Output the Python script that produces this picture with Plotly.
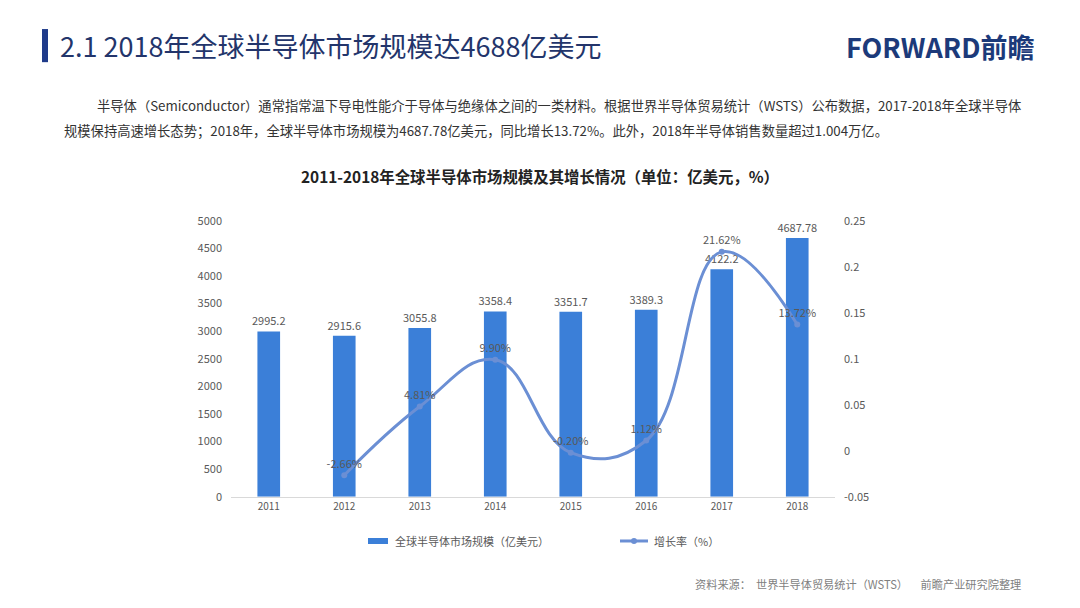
import plotly.graph_objects as go

years = ["2011", "2012", "2013", "2014", "2015", "2016", "2017", "2018"]
market_size = [2995.2, 2915.6, 3055.8, 3358.4, 3351.7, 3389.3, 4122.2, 4687.78]
market_labels = ["2995.2", "2915.6", "3055.8", "3358.4", "3351.7", "3389.3", "4122.2", "4687.78"]
growth_years = ["2012", "2013", "2014", "2015", "2016", "2017", "2018"]
growth_rate = [-0.0266, 0.0481, 0.0990, -0.0020, 0.0112, 0.2162, 0.1372]
growth_labels = ["-2.66%", "4.81%", "9.90%", "-0.20%", "1.12%", "21.62%", "13.72%"]
left_ticks = [0, 500, 1000, 1500, 2000, 2500, 3000, 3500, 4000, 4500, 5000]
right_ticks = [-0.05, 0, 0.05, 0.1, 0.15, 0.2, 0.25]
right_ticktext = ["-0.05", "0", "0.05", "0.1", "0.15", "0.2", "0.25"]

W, H = 1080, 608
FONT = "Noto Sans CJK SC"
BAR_COLOR = "#3b7fd8"
LINE_COLOR = "#6b8fd4"
GRAY = "#595959"


# page offset compensation (picture coords -> paper fractions)
def px(x):
    return (x - 8) / W


def py(y):
    return 1 - ((y - 18) / 0.97) / H


fig = go.Figure()

fig.add_trace(go.Bar(
    x=years,
    y=market_size,
    name="全球半导体市场规模（亿美元）",
    marker=dict(color=BAR_COLOR, line=dict(width=0)),
    text=market_labels,
    textposition="outside",
    constraintext="none",
    textfont=dict(size=11, color=GRAY, family=FONT),
    cliponaxis=False,
    showlegend=False,
))

fig.add_trace(go.Scatter(
    x=growth_years,
    y=growth_rate,
    name="增长率（%）",
    yaxis="y2",
    mode="lines+markers+text",
    line=dict(color=LINE_COLOR, width=3, shape="spline", smoothing=1.2),
    marker=dict(size=6, color=LINE_COLOR),
    text=growth_labels,
    textposition="top center",
    textfont=dict(size=11, color=GRAY, family=FONT),
    cliponaxis=False,
    showlegend=False,
))

fig.update_layout(
    width=W,
    height=H,
    margin=dict(l=0, r=0, t=0, b=0),
    paper_bgcolor="white",
    plot_bgcolor="white",
    font=dict(family=FONT, color=GRAY),
    bargap=0.7,
    xaxis=dict(
        domain=[px(231), px(835)],
        showgrid=False,
        showline=True,
        linecolor="#d9d9d9",
        linewidth=1,
        ticks="",
        tickfont=dict(size=10, color=GRAY),
    ),
    yaxis=dict(
        domain=[py(496), py(221)],
        range=[0, 5000],
        tickvals=left_ticks,
        showgrid=False,
        zeroline=False,
        showline=False,
        tickfont=dict(size=11, color=GRAY),
        ticklabelstandoff=8,
    ),
    yaxis2=dict(
        overlaying="y",
        side="right",
        range=[-0.05, 0.25],
        tickvals=right_ticks,
        ticktext=right_ticktext,
        showgrid=False,
        zeroline=False,
        showline=False,
        tickfont=dict(size=11, color=GRAY),
        ticklabelstandoff=8,
    ),
)

shapes = [
    # header bar
    dict(type="rect", x0=px(42), x1=px(48), y0=py(63), y1=py(30),
         fillcolor="#1f3b8a", line=dict(width=0)),
    # legend swatches
    dict(type="rect", x0=px(368), x1=px(388), y0=py(543), y1=py(537),
         fillcolor=BAR_COLOR, line=dict(width=0)),
    dict(type="line", x0=px(620), x1=px(648), y0=py(540), y1=py(540),
         line=dict(color=LINE_COLOR, width=3)),
    dict(type="circle", x0=px(631), x1=px(637), y0=py(543), y1=py(537),
         fillcolor=LINE_COLOR, line=dict(width=0)),
]
for s in shapes:
    s.update(xref="paper", yref="paper")
    fig.add_shape(**s)

annotations = [
    dict(x=px(58), y=py(46), text="2.1 2018年全球半导体市场规模达4688亿美元",
         font=dict(size=27, color="#23356b", family=FONT), xanchor="left"),
    dict(x=px(1036), y=py(47), text="<b>FORWARD前瞻</b>",
         font=dict(size=27, color="#1c3a7a", family=FONT), xanchor="right"),
    dict(x=px(95), y=py(106),
         text="半导体（Semiconductor）通常指常温下导电性能介于导体与绝缘体之间的一类材料。根据世界半导体贸易统计（WSTS）公布数据，2017-2018年全球半导体",
         font=dict(size=13.3, color="#333333", family=FONT), xanchor="left"),
    dict(x=px(62), y=py(131),
         text="规模保持高速增长态势；2018年，全球半导体市场规模为4687.78亿美元，同比增长13.72%。此外，2018年半导体销售数量超过1.004万亿。",
         font=dict(size=13.3, color="#333333", family=FONT), xanchor="left"),
    dict(x=px(540), y=py(176),
         text="<b>2011-2018年全球半导体市场规模及其增长情况（单位：亿美元，%）</b>",
         font=dict(size=15.4, color="#222222", family=FONT), xanchor="center"),
    dict(x=px(393), y=py(540), text="全球半导体市场规模（亿美元）",
         font=dict(size=11, color=GRAY, family=FONT), xanchor="left"),
    dict(x=px(652), y=py(540), text="增长率（%）",
         font=dict(size=11, color=GRAY, family=FONT), xanchor="left"),
    dict(x=px(693), y=py(583),
         text="资料来源：  世界半导体贸易统计（WSTS）     前瞻产业研究院整理",
         font=dict(size=11.2, color="#7f7f7f", family=FONT), xanchor="left"),
]
for a in annotations:
    a.update(xref="paper", yref="paper", showarrow=False, yanchor="middle")
    fig.add_annotation(**a)

fig.write_html("out.html")
